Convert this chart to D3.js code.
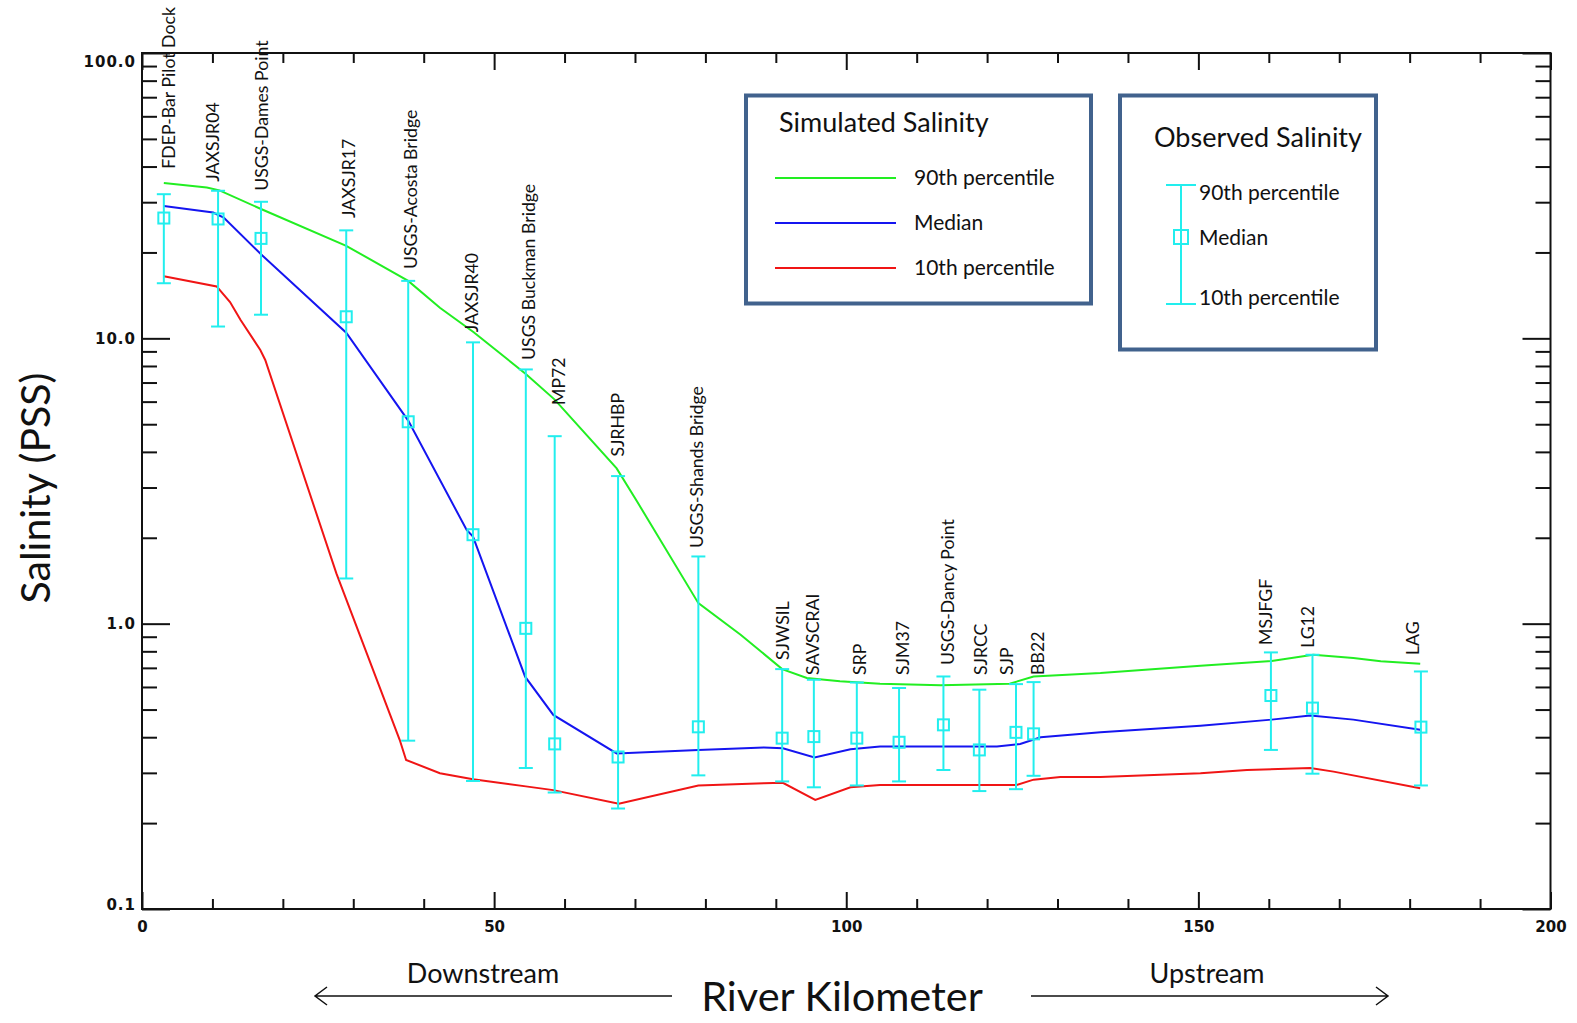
<!DOCTYPE html>
<html>
<head>
  <meta charset="utf-8">
  <script src="https://d3js.org/d3.v7.min.js"></script>
  <style>
    body { margin: 0; background: #fff; }
    svg { display: block; }
    .tick text { font-family: "DejaVu Sans", sans-serif; font-weight: bold; fill: #111; }
    .axis line { stroke: #111; stroke-width: 2px; }
    .sim { fill: none; stroke-width: 2px; }
    .obs line, .obs rect { stroke: #22eeee; stroke-width: 2px; fill: none; }
    .station { font-family: Lato, "Open Sans", sans-serif; font-size: 17.7px; fill: #111; }
    .lbl { font-family: Lato, "Open Sans", sans-serif; fill: #111; }
  </style>
</head>
<body>
<svg id="chart"></svg>
<script>

  // observation stations along the river
  var stations = ["FDEP-Bar Pilot Dock", "JAXSJR04", "USGS-Dames Point", "JAXSJR17",
    "USGS-Acosta Bridge", "JAXSJR40", "USGS Buckman Bridge", "MP72", "SJRHBP",
    "USGS-Shands Bridge", "SJWSIL", "SAVSCRAI", "SRP", "SJM37", "USGS-Dancy Point",
    "SJRCC", "SJP", "BB22", "MSJFGF", "LG12", "LAG"];
  var stationKm = [3.1, 10.8, 16.9, 29.0, 37.8, 47.0, 54.5, 58.6, 67.6, 79.0, 90.9,
    95.4, 101.5, 107.5, 113.8, 118.9, 124.1, 126.6, 160.3, 166.2, 181.6];
  var obs90 = [32, 32.9, 30.1, 23.9, 15.9, 9.68, 7.78, 4.54, 3.29, 1.72, 0.693,
    0.636, 0.622, 0.595, 0.653, 0.587, 0.614, 0.624, 0.793, 0.778, 0.680];
  var obsMed = [26.4, 26.2, 22.4, 11.9, 5.1, 2.05, 0.963, 0.379, 0.341, 0.435, 0.397,
    0.402, 0.397, 0.384, 0.442, 0.361, 0.416, 0.411, 0.560, 0.506, 0.434];
  var obs10 = [15.6, 11.0, 12.1, 1.44, 0.389, 0.281, 0.312, 0.256, 0.225, 0.294, 0.280,
    0.267, 0.271, 0.280, 0.307, 0.259, 0.263, 0.293, 0.361, 0.298, 0.271];

  // simulated salinity profiles [km, PSS]
  var sim90 = [[3.1, 35.0], [9.2, 33.8], [11.0, 33.0], [16.9, 28.4], [29.0, 21.1],
    [37.8, 15.9], [42.3, 12.8], [47.1, 10.5], [54.5, 7.5], [58.6, 6.1], [67.4, 3.5],
    [70.3, 2.68], [79.0, 1.18], [85.0, 0.915], [90.9, 0.693], [94.4, 0.645], [99.1, 0.628],
    [104.8, 0.616], [113.4, 0.608], [123.2, 0.616], [126.6, 0.653], [136.1, 0.671],
    [150.3, 0.712], [160.4, 0.74], [166.3, 0.778], [172.0, 0.758], [175.9, 0.738], [181.5, 0.723]];
  var simMed = [[3.1, 29.1], [10.1, 27.6], [11.6, 26.5], [16.9, 19.7], [29.0, 10.47],
    [37.8, 5.15], [46.1, 2.13], [47.0, 2.02], [54.4, 0.652], [58.4, 0.479],
    [67.4, 0.351], [79.0, 0.361], [88.3, 0.368], [91.0, 0.366], [95.5, 0.340], [100.6, 0.363],
    [104.8, 0.371], [121.4, 0.371], [124.7, 0.379], [127.6, 0.400], [136.1, 0.416],
    [150.3, 0.439], [160.4, 0.461], [165.9, 0.477], [172.0, 0.461], [181.5, 0.425]];
  var sim10 = [[3.1, 16.5], [10.6, 15.2], [12.5, 13.4], [14.0, 11.6], [16.8, 9.1], [17.5, 8.4],
    [27.6, 1.50], [36.6, 0.391], [37.5, 0.333], [42.3, 0.299], [47.0, 0.285], [54.5, 0.269],
    [58.4, 0.261], [67.7, 0.234], [79.0, 0.271],
    [88.3, 0.276], [91.0, 0.277], [95.6, 0.241], [100.6, 0.267], [104.8, 0.272], [124.2, 0.272],
    [126.6, 0.284], [130.4, 0.290], [136.1, 0.290], [150.3, 0.299], [156.9, 0.307],
    [165.9, 0.312], [169.2, 0.303], [181.5, 0.265]];

  var xMajor = [0, 50, 100, 150, 200];
  var yMajor = [0.1, 1, 10, 100];
  var yLabels = ["0.1", "1.0", "10.0", "100.0"];

  // where each station name sits: horizontal nudge (px) and bottom of the text (PSS)
  var labelDx = [4.5, -5, 0.4, 2, 2, -1.3, 3, 3.7, -0.2, -2.2, 0.7, -1.5, 3.3, 3.5,
    3.7, 1, -9.3, 4.2, -5.5, -5.2, -8];
  var labelBase = [39.3, 35.4, 32.9, 26.4, 17.5, 10.5, 8.4, 5.84, 3.85, 1.84, 0.746,
    0.661, 0.661, 0.661, 0.717, 0.661, 0.661, 0.661, 0.842, 0.823, 0.776];

  var width = 1577, height = 1023;
  var svg = d3.select("#chart").attr("width", width).attr("height", height);

  var x = d3.scaleLinear().domain([0, 200]).range([142, 1550.5]);
  var y = d3.scaleLog().domain([0.1, 100]).range([909, 53]);

  var xMinor = d3.range(0, 201, 10).filter(function(d) { return d % 50 != 0; });
  var yMinor = [];
  [0.1, 1, 10].forEach(function(p) { for (var k = 2; k <= 9; k++) yMinor.push(p * k); });

  function clean(g) { g.select(".domain").remove(); }

  // bottom axis
  svg.append("g").attr("class", "axis").attr("transform", "translate(0," + y(0.1) + ")")
      .call(d3.axisBottom(x).tickValues(xMajor).tickSize(-17).tickSizeOuter(0).tickPadding(12))
      .call(clean)
      .selectAll("text").attr("font-size", 15);
  svg.append("g").attr("class", "axis").attr("transform", "translate(0," + y(0.1) + ")")
      .call(d3.axisBottom(x).tickValues(xMinor).tickSize(-10).tickFormat(""))
      .call(clean);
  // top axis
  svg.append("g").attr("class", "axis").attr("transform", "translate(0," + y(100) + ")")
      .call(d3.axisTop(x).tickValues(xMajor).tickSize(-17).tickFormat(""))
      .call(clean);
  svg.append("g").attr("class", "axis").attr("transform", "translate(0," + y(100) + ")")
      .call(d3.axisTop(x).tickValues(xMinor).tickSize(-10).tickFormat(""))
      .call(clean);
  // left axis
  var left = svg.append("g").attr("class", "axis").attr("transform", "translate(" + x(0) + ",0)")
      .call(d3.axisLeft(y).tickValues(yMajor).tickSize(-28).tickPadding(6)
        .tickFormat(function(d, i) { return yLabels[i]; }))
      .call(clean);
  left.selectAll("text").attr("font-size", 15).attr("letter-spacing", 1)
      .attr("dy", function(d) { return d == 100 ? "0.9em" : d == 0.1 ? "0.05em" : "0.32em"; });
  svg.append("g").attr("class", "axis").attr("transform", "translate(" + x(0) + ",0)")
      .call(d3.axisLeft(y).tickValues(yMinor).tickSize(-15).tickFormat(""))
      .call(clean);
  // right axis
  svg.append("g").attr("class", "axis").attr("transform", "translate(" + x(200) + ",0)")
      .call(d3.axisRight(y).tickValues(yMajor).tickSize(-28).tickFormat(""))
      .call(clean);
  svg.append("g").attr("class", "axis").attr("transform", "translate(" + x(200) + ",0)")
      .call(d3.axisRight(y).tickValues(yMinor).tickSize(-15).tickFormat(""))
      .call(clean);

  svg.append("rect")
      .attr("x", x(0)).attr("y", y(100))
      .attr("width", x(200) - x(0)).attr("height", y(0.1) - y(100))
      .attr("fill", "none").attr("stroke", "#111").attr("stroke-width", 2);

  // simulated lines
  var line = d3.line().x(function(d) { return x(d[0]); }).y(function(d) { return y(d[1]); });
  [[sim90, "#22ee22"], [simMed, "#1515f0"], [sim10, "#f01515"]].forEach(function(s) {
    svg.append("path").datum(s[0]).attr("class", "sim").attr("stroke", s[1]).attr("d", line);
  });

  // observed bars
  var obs = svg.append("g").attr("class", "obs").selectAll("g")
      .data(stationKm).enter().append("g");
  obs.append("line")
      .attr("x1", function(d) { return x(d); }).attr("x2", function(d) { return x(d); })
      .attr("y1", function(d, i) { return y(obs90[i]); })
      .attr("y2", function(d, i) { return y(obs10[i]); });
  obs.append("line")
      .attr("x1", function(d) { return x(d) - 7; }).attr("x2", function(d) { return x(d) + 7; })
      .attr("y1", function(d, i) { return y(obs90[i]); })
      .attr("y2", function(d, i) { return y(obs90[i]); });
  obs.append("line")
      .attr("x1", function(d) { return x(d) - 7; }).attr("x2", function(d) { return x(d) + 7; })
      .attr("y1", function(d, i) { return y(obs10[i]); })
      .attr("y2", function(d, i) { return y(obs10[i]); });
  obs.append("rect")
      .attr("x", function(d) { return x(d) - 5.5; })
      .attr("y", function(d, i) { return y(obsMed[i]) - 5.5; })
      .attr("width", 11).attr("height", 11);

  // station names
  svg.append("g").selectAll("text")
      .data(stations).enter().append("text")
      .attr("class", "station")
      .attr("dy", "0.36em")
      .attr("transform", function(d, i) {
        return "translate(" + (x(stationKm[i]) + labelDx[i]) + "," + y(labelBase[i]) + ") rotate(-90)";
      })
      .text(function(d) { return d; });

  // axis titles
  svg.append("text").attr("class", "lbl")
      .attr("transform", "translate(50,488) rotate(-90)")
      .attr("text-anchor", "middle").attr("font-size", 41)
      .text("Salinity (PSS)");
  svg.append("text").attr("class", "lbl")
      .attr("x", 842).attr("y", 1011).attr("text-anchor", "middle").attr("font-size", 41.5)
      .text("River Kilometer");
  svg.append("text").attr("class", "lbl")
      .attr("x", 483).attr("y", 983).attr("text-anchor", "middle").attr("font-size", 27)
      .text("Downstream");
  svg.append("text").attr("class", "lbl")
      .attr("x", 1207).attr("y", 983).attr("text-anchor", "middle").attr("font-size", 27)
      .text("Upstream");

  function arrow(x1, x2, yy) {
    var dir = x2 > x1 ? -1 : 1;
    svg.append("path")
        .attr("d", "M" + x1 + "," + yy + "H" + x2 +
          "M" + (x2 + dir * 12) + "," + (yy - 9) + "L" + x2 + "," + yy + "L" + (x2 + dir * 12) + "," + (yy + 9))
        .attr("fill", "none").attr("stroke", "#111").attr("stroke-width", 1.5);
  }
  arrow(672, 315, 996);
  arrow(1031, 1388, 996);

  // legends
  var boxColor = "#41628d";
  svg.append("rect").attr("x", 746).attr("y", 95.5).attr("width", 345).attr("height", 208)
      .attr("fill", "#fff").attr("stroke", boxColor).attr("stroke-width", 4);
  svg.append("text").attr("class", "lbl").attr("x", 779).attr("y", 132).attr("font-size", 27)
      .text("Simulated Salinity");
  [["90th percentile", "#22ee22", 178], ["Median", "#1515f0", 223], ["10th percentile", "#f01515", 268]]
    .forEach(function(r) {
      svg.append("line").attr("x1", 775).attr("x2", 896).attr("y1", r[2]).attr("y2", r[2])
          .attr("stroke", r[1]).attr("stroke-width", 2);
      svg.append("text").attr("class", "lbl").attr("x", 914).attr("y", r[2] + 7)
          .attr("font-size", 21).text(r[0]);
    });

  svg.append("rect").attr("x", 1120).attr("y", 95.5).attr("width", 256).attr("height", 254)
      .attr("fill", "#fff").attr("stroke", boxColor).attr("stroke-width", 4);
  svg.append("text").attr("class", "lbl").attr("x", 1154).attr("y", 147).attr("font-size", 27)
      .text("Observed Salinity");
  var lg = svg.append("g").attr("class", "obs");
  lg.append("line").attr("x1", 1181).attr("x2", 1181).attr("y1", 185).attr("y2", 304);
  lg.append("line").attr("x1", 1166).attr("x2", 1196).attr("y1", 185).attr("y2", 185);
  lg.append("line").attr("x1", 1166).attr("x2", 1196).attr("y1", 304).attr("y2", 304);
  lg.append("rect").attr("x", 1174).attr("y", 230).attr("width", 14).attr("height", 14);
  [["90th percentile", 193], ["Median", 238], ["10th percentile", 298]].forEach(function(r) {
    svg.append("text").attr("class", "lbl").attr("x", 1199).attr("y", r[1] + 7)
        .attr("font-size", 21).text(r[0]);
  });

</script>
</body>
</html>
